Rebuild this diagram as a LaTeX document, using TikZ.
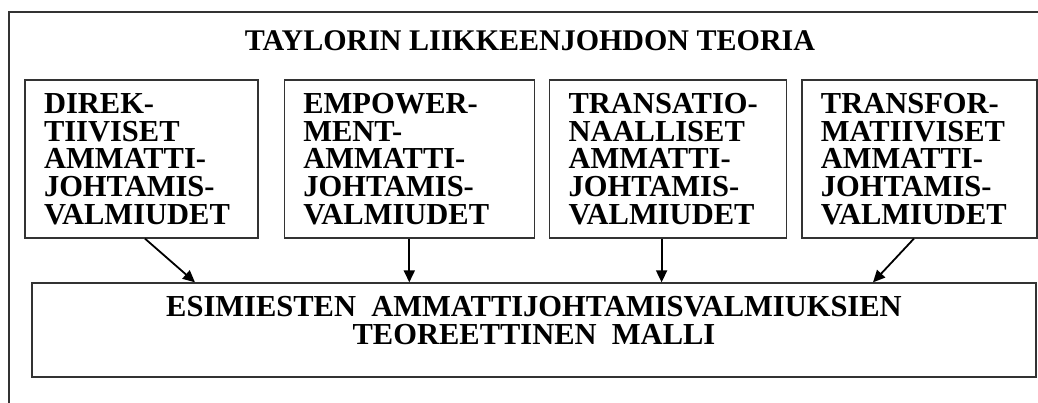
\documentclass[tikz,border=0pt]{standalone}
\usepackage{fontspec}
\setmainfont{Liberation Serif}
\usepackage{tikz}
\usetikzlibrary{arrows.meta, positioning}
\newcommand{\valmfont}{\fontsize{30.5}{27.7}\selectfont\bfseries}
\newcommand{\otsikkofont}{\fontsize{30}{30}\selectfont\bfseries}
\newcommand{\mallifont}{\fontsize{30.5}{28}\selectfont\bfseries}
\tikzstyle{valmius} = [rectangle, draw=black!80, line width=1.3pt, minimum height=158pt, inner xsep=19pt, align=left, font=\valmfont]
\tikzstyle{mallibox} = [rectangle, draw=black!80, line width=1.3pt, minimum width=1004pt, minimum height=94pt]
\tikzstyle{arrow} = [line width=1.8pt, -{Triangle[length=12pt, width=11pt]}]

\begin{document}
\begin{tikzpicture}[x=1pt, y=1pt]
    \useasboundingbox (0,0) rectangle (1038,-403);
    % outer frame
    \draw [black!80, line width=1.3pt] (9,-420) |- (1060,-12);

    \node (otsikko) [anchor=base, inner sep=0pt, font=\otsikkofont] at (530,-51) {TAYLORIN LIIKKEENJOHDON TEORIA};

    \node (direk) [valmius, text width=195pt] at (141.5,-159) {DIREK-\\TIIVISET\\AMMATTI-\\JOHTAMIS-\\VALMIUDET};
    \node (empower) [valmius, text width=212pt, right=25pt of direk] {EMPOWER-\\MENT-\\AMMATTI-\\JOHTAMIS-\\VALMIUDET};
    \node (transatio) [valmius, text width=199pt, right=14pt of empower] {TRANSATIO-\\NAALLISET\\AMMATTI-\\JOHTAMIS-\\VALMIUDET};
    \node (transfor) [valmius, text width=197pt, right=14pt of transatio] {TRANSFOR-\\MATIIVISET\\AMMATTI-\\JOHTAMIS-\\VALMIUDET};

    \node (malli) [mallibox] at (534,-330) {};
    \node (mallitext) [below=14pt of malli.north, inner sep=0pt, align=center, font=\mallifont] {ESIMIESTEN\ \ AMMATTIJOHTAMISVALMIUKSIEN\\TEOREETTINEN\ \ MALLI};

    \draw [arrow] ([xshift=3.5pt]direk.south) -- ([xshift=-339pt]malli.north);
    \draw [arrow] (empower.south) -- (empower.south |- malli.north);
    \draw [arrow] ([xshift=-6.5pt]transatio.south) -- ([xshift=-6.5pt]transatio.south |- malli.north);
    \draw [arrow] ([xshift=-5.5pt]transfor.south) -- ([xshift=339pt]malli.north);
\end{tikzpicture}
\end{document}
